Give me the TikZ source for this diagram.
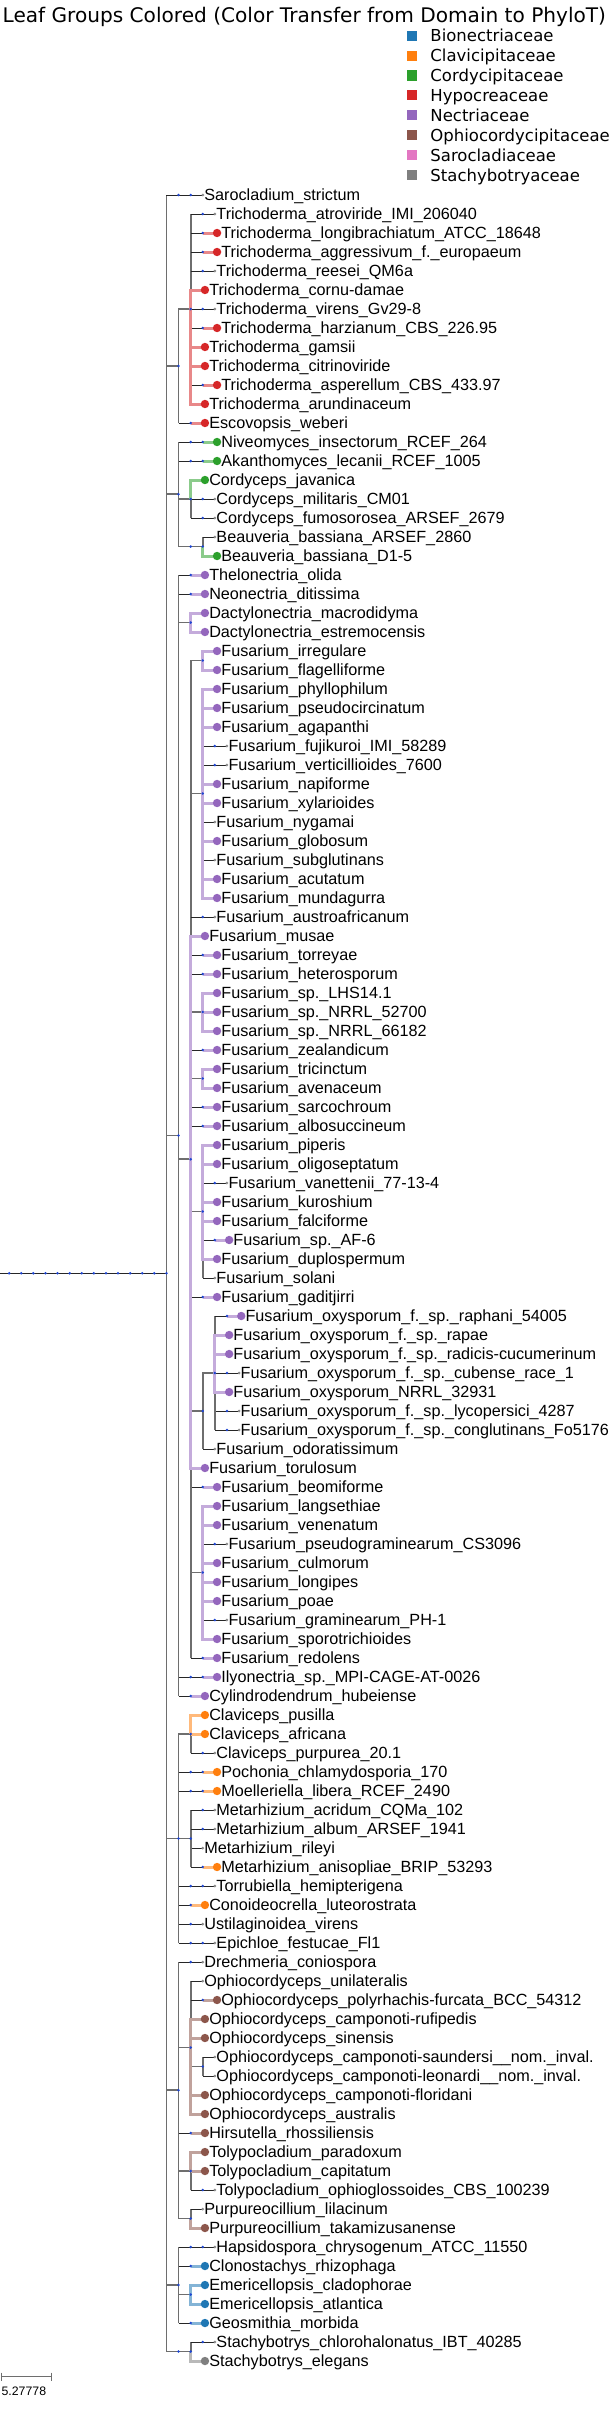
\documentclass[tikz,border=0pt]{standalone}
\usepackage{fontspec}
\setmainfont{Liberation Sans}
\newfontfamily\dejavu{DejaVu Sans}
\usetikzlibrary{calc}
\pgfdeclarelayer{bg}\pgfdeclarelayer{edges}\pgfdeclarelayer{cedges}
\pgfsetlayers{bg,edges,cedges,main}
\definecolor{cBion}{HTML}{1F77B4}
\definecolor{cClav}{HTML}{FF7F0E}
\definecolor{cCord}{HTML}{2CA02C}
\definecolor{cHypo}{HTML}{D62728}
\definecolor{cNect}{HTML}{9467BD}
\definecolor{cOphi}{HTML}{8C564B}
\definecolor{cSaro}{HTML}{E377C2}
\definecolor{cStac}{HTML}{7F7F7F}
\definecolor{bdotc}{HTML}{1E46D2}
\definecolor{gdotc}{HTML}{8C8C8C}
\definecolor{vcol}{HTML}{6E6E6E}
\newcommand\leaffont{\fontsize{16.2}{19}\selectfont}
\newcommand\legfont{\dejavu\fontsize{16.5}{19}\selectfont}
\tikzset{
 vedge/.style={draw=vcol,line width=1.8pt},
 ledge/.style={draw=black!85,line width=0.9pt},
 cedge/.style={line width=3pt},
 bdot/.style={fill=bdotc},
 gdot/.style={fill=gdotc},
 lbl/.style={anchor=base west,inner sep=0pt,outer sep=0pt,font=\leaffont,yshift=-5.8pt},
 leg/.style={anchor=base west,inner sep=0pt,outer sep=0pt,font=\legfont,yshift=-6pt},
}
% branch node: name, parent, level, y
\newcommand\bnode[4]{%
  \coordinate (#1) at ({166+12.1*#3},#4);%
  \begin{pgfonlayer}{edges}\draw[vedge] (#2) |- (#1);\end{pgfonlayer}%
  \fill[bdot] (#1) circle (1.4pt);}
% chain of single-child nodes: parent,id,nInter,leaf level (uses \ly)
\newcommand\chainpart[4]{%
  \ifnum#3>0
    \foreach \i in {1,...,#3}{%
      \pgfmathsetmacro\ix{166+12.1*(#4-#3-1+\i)}%
      \coordinate (#2-\i) at (\ix,\ly);%
    }%
    \begin{pgfonlayer}{edges}
      \draw[vedge] (#1) -- (#1 |- #2-1);
      \draw[ledge] (#1 |- #2-1) -- (#2-#3);
    \end{pgfonlayer}%
    \foreach \i in {1,...,#3}{\fill[bdot] (#2-\i) circle (1.4pt);}%
    \gdef\prev{#2-#3}%
  \else
    \gdef\prev{#1}%
  \fi}
% grey leaf: parent,id,nInter,level,row,text
\newcommand\gleaf[6]{%
  \pgfmathsetmacro\ly{176+19*#5}%
  \pgfmathsetmacro\lx{166+12.1*#4}%
  \coordinate (#2) at (\lx,\ly);%
  \chainpart{#1}{#2}{#3}{#4}%
  \begin{pgfonlayer}{edges}
    \ifnum#3=0 \draw[vedge] (#1) -- (#1 |- #2); \draw[ledge] (#1 |- #2) -- (#2);
    \else \draw[ledge] (\prev) -- (#2); \fi
  \end{pgfonlayer}%
  \fill[gdot] (#2) circle (1.5pt);%
  \node[lbl] (#2-t) at ([xshift=1.6pt]#2) {#6};}
% coloured leaf: parent,id,nInter,level,row,colour,text
\newcommand\cleaf[7]{%
  \pgfmathsetmacro\ly{176+19*#5}%
  \pgfmathsetmacro\lx{166+12.1*#4}%
  \coordinate (#2) at (\lx,\ly);%
  \coordinate (#2-d) at ({\lx+2.2},\ly);%
  \chainpart{#1}{#2}{#3}{#4}%
  \begin{pgfonlayer}{edges}
    \ifnum#3=0 \draw[vedge] (#1) -- (#1 |- #2); \fi
  \end{pgfonlayer}%
  \begin{pgfonlayer}{cedges}
    \draw[cedge,draw=#6!55!white] (\prev) |- (#2-d);
  \end{pgfonlayer}%
  \fill[#6] (#2-d) circle (4.2pt);%
  \node[lbl] (#2-t) at ([xshift=6.5pt]#2) {#7};}
\begin{document}
\begin{tikzpicture}[x=1pt,y=-1pt]
\begin{pgfonlayer}{bg}
\path[fill=white,use as bounding box] (0,0) rectangle (612,2422);
\end{pgfonlayer}
% title
\node[anchor=base west,inner sep=0pt] (title) at (2,22.7)
  {\dejavu\fontsize{20.1}{24}\selectfont Leaf Groups Colored (Color Transfer from Domain to PhyloT)};
% legend
\foreach \c/\t [count=\k from 0] in {cBion/Bionectriaceae,cClav/Clavicipitaceae,cCord/Cordycipitaceae,cHypo/Hypocreaceae,cNect/Nectriaceae,cOphi/Ophiocordycipitaceae,cSaro/Sarocladiaceae,cStac/Stachybotryaceae}{
  \fill[\c] (406.7,{35.7+19.9*\k-5}) rectangle ++(10,10);
  \node[leg] (leg\k) at (430,{35.7+19.9*\k}) {\t};
}
% root chain
\coordinate (R0) at (166,1273.25);
\coordinate (r0) at (0,1273.25);
\begin{pgfonlayer}{edges}\draw[ledge] (r0) -- (R0);\end{pgfonlayer}
\fill[bdot] (R0) circle (1.4pt);
\foreach \k in {1,...,13}{\coordinate (rc\k) at ({166-12.1*\k},1273.25); \fill[bdot] (rc\k) circle (1.4pt);}
% branch nodes
\bnode{H}{R0}{1}{366}
\bnode{T}{H}{2}{309}
\bnode{C}{R0}{1}{494.25}
\bnode{Cord}{C}{2}{499}
\bnode{Beau1}{C}{2}{546.5}
\bnode{Beau}{Beau1}{3}{546.5}
\bnode{N}{R0}{1}{1135.5}
\bnode{Dact}{N}{2}{622.5}
\bnode{F}{N}{2}{1159.25}
\bnode{Irr}{F}{3}{660.5}
\bnode{FF}{F}{3}{793.5}
\bnode{SpN}{F}{3}{1012}
\bnode{Tric}{F}{3}{1078.5}
\bnode{Sol}{F}{3}{1211.5}
\bnode{O}{F}{3}{1411}
\bnode{OO}{O}{4}{1373}
\bnode{G}{F}{3}{1572.5}
\bnode{Cl}{R0}{1}{1838.5}
\bnode{Clav}{Cl}{2}{1734}
\bnode{Met}{Cl}{2}{1838.5}
\bnode{Op}{R0}{1}{2090.25}
\bnode{Oph}{Op}{2}{2047.5}
\bnode{Camp}{Oph}{3}{2066.5}
\bnode{Toly}{Op}{2}{2171}
\bnode{Purp}{Op}{2}{2218.5}
\bnode{B}{R0}{1}{2285}
\bnode{Emer}{B}{2}{2294.5}
\bnode{St1}{R0}{1}{2351.5}
\bnode{St}{St1}{2}{2351.5}
% leaves
\gleaf{R0}{l1}{2}{3}{1}{Sarocladium\_strictum}
\gleaf{T}{l2}{1}{4}{2}{Trichoderma\_atroviride\_IMI\_206040}
\cleaf{T}{l3}{1}{4}{3}{cHypo}{Trichoderma\_longibrachiatum\_ATCC\_18648}
\cleaf{T}{l4}{1}{4}{4}{cHypo}{Trichoderma\_aggressivum\_f.\_europaeum}
\gleaf{T}{l5}{1}{4}{5}{Trichoderma\_reesei\_QM6a}
\cleaf{T}{l6}{0}{3}{6}{cHypo}{Trichoderma\_cornu-damae}
\gleaf{T}{l7}{1}{4}{7}{Trichoderma\_virens\_Gv29-8}
\cleaf{T}{l8}{1}{4}{8}{cHypo}{Trichoderma\_harzianum\_CBS\_226.95}
\cleaf{T}{l9}{0}{3}{9}{cHypo}{Trichoderma\_gamsii}
\cleaf{T}{l10}{0}{3}{10}{cHypo}{Trichoderma\_citrinoviride}
\cleaf{T}{l11}{1}{4}{11}{cHypo}{Trichoderma\_asperellum\_CBS\_433.97}
\cleaf{T}{l12}{0}{3}{12}{cHypo}{Trichoderma\_arundinaceum}
\cleaf{H}{l13}{1}{3}{13}{cHypo}{Escovopsis\_weberi}
\cleaf{C}{l14}{2}{4}{14}{cCord}{Niveomyces\_insectorum\_RCEF\_264}
\cleaf{C}{l15}{2}{4}{15}{cCord}{Akanthomyces\_lecanii\_RCEF\_1005}
\cleaf{Cord}{l16}{0}{3}{16}{cCord}{Cordyceps\_javanica}
\gleaf{Cord}{l17}{1}{4}{17}{Cordyceps\_militaris\_CM01}
\gleaf{Cord}{l18}{1}{4}{18}{Cordyceps\_fumosorosea\_ARSEF\_2679}
\gleaf{Beau}{l19}{0}{4}{19}{Beauveria\_bassiana\_ARSEF\_2860}
\cleaf{Beau}{l20}{0}{4}{20}{cCord}{Beauveria\_bassiana\_D1-5}
\cleaf{N}{l21}{1}{3}{21}{cNect}{Thelonectria\_olida}
\cleaf{N}{l22}{1}{3}{22}{cNect}{Neonectria\_ditissima}
\cleaf{Dact}{l23}{0}{3}{23}{cNect}{Dactylonectria\_macrodidyma}
\cleaf{Dact}{l24}{0}{3}{24}{cNect}{Dactylonectria\_estremocensis}
\cleaf{Irr}{l25}{0}{4}{25}{cNect}{Fusarium\_irregulare}
\cleaf{Irr}{l26}{0}{4}{26}{cNect}{Fusarium\_flagelliforme}
\cleaf{FF}{l27}{0}{4}{27}{cNect}{Fusarium\_phyllophilum}
\cleaf{FF}{l28}{0}{4}{28}{cNect}{Fusarium\_pseudocircinatum}
\cleaf{FF}{l29}{0}{4}{29}{cNect}{Fusarium\_agapanthi}
\gleaf{FF}{l30}{1}{5}{30}{Fusarium\_fujikuroi\_IMI\_58289}
\gleaf{FF}{l31}{1}{5}{31}{Fusarium\_verticillioides\_7600}
\cleaf{FF}{l32}{0}{4}{32}{cNect}{Fusarium\_napiforme}
\cleaf{FF}{l33}{0}{4}{33}{cNect}{Fusarium\_xylarioides}
\gleaf{FF}{l34}{0}{4}{34}{Fusarium\_nygamai}
\cleaf{FF}{l35}{0}{4}{35}{cNect}{Fusarium\_globosum}
\gleaf{FF}{l36}{0}{4}{36}{Fusarium\_subglutinans}
\cleaf{FF}{l37}{0}{4}{37}{cNect}{Fusarium\_acutatum}
\cleaf{FF}{l38}{0}{4}{38}{cNect}{Fusarium\_mundagurra}
\gleaf{F}{l39}{1}{4}{39}{Fusarium\_austroafricanum}
\cleaf{F}{l40}{0}{3}{40}{cNect}{Fusarium\_musae}
\cleaf{F}{l41}{1}{4}{41}{cNect}{Fusarium\_torreyae}
\cleaf{F}{l42}{1}{4}{42}{cNect}{Fusarium\_heterosporum}
\cleaf{SpN}{l43}{0}{4}{43}{cNect}{Fusarium\_sp.\_LHS14.1}
\cleaf{SpN}{l44}{0}{4}{44}{cNect}{Fusarium\_sp.\_NRRL\_52700}
\cleaf{SpN}{l45}{0}{4}{45}{cNect}{Fusarium\_sp.\_NRRL\_66182}
\cleaf{F}{l46}{1}{4}{46}{cNect}{Fusarium\_zealandicum}
\cleaf{Tric}{l47}{0}{4}{47}{cNect}{Fusarium\_tricinctum}
\cleaf{Tric}{l48}{0}{4}{48}{cNect}{Fusarium\_avenaceum}
\cleaf{F}{l49}{1}{4}{49}{cNect}{Fusarium\_sarcochroum}
\cleaf{F}{l50}{1}{4}{50}{cNect}{Fusarium\_albosuccineum}
\cleaf{Sol}{l51}{0}{4}{51}{cNect}{Fusarium\_piperis}
\cleaf{Sol}{l52}{0}{4}{52}{cNect}{Fusarium\_oligoseptatum}
\gleaf{Sol}{l53}{1}{5}{53}{Fusarium\_vanettenii\_77-13-4}
\cleaf{Sol}{l54}{0}{4}{54}{cNect}{Fusarium\_kuroshium}
\cleaf{Sol}{l55}{0}{4}{55}{cNect}{Fusarium\_falciforme}
\cleaf{Sol}{l56}{1}{5}{56}{cNect}{Fusarium\_sp.\_AF-6}
\cleaf{Sol}{l57}{0}{4}{57}{cNect}{Fusarium\_duplospermum}
\gleaf{Sol}{l58}{0}{4}{58}{Fusarium\_solani}
\cleaf{F}{l59}{1}{4}{59}{cNect}{Fusarium\_gaditjirri}
\cleaf{OO}{l60}{1}{6}{60}{cNect}{Fusarium\_oxysporum\_f.\_sp.\_raphani\_54005}
\cleaf{OO}{l61}{0}{5}{61}{cNect}{Fusarium\_oxysporum\_f.\_sp.\_rapae}
\cleaf{OO}{l62}{0}{5}{62}{cNect}{Fusarium\_oxysporum\_f.\_sp.\_radicis-cucumerinum}
\gleaf{OO}{l63}{1}{6}{63}{Fusarium\_oxysporum\_f.\_sp.\_cubense\_race\_1}
\cleaf{OO}{l64}{0}{5}{64}{cNect}{Fusarium\_oxysporum\_NRRL\_32931}
\gleaf{OO}{l65}{1}{6}{65}{Fusarium\_oxysporum\_f.\_sp.\_lycopersici\_4287}
\gleaf{OO}{l66}{1}{6}{66}{Fusarium\_oxysporum\_f.\_sp.\_conglutinans\_Fo5176}
\gleaf{O}{l67}{0}{4}{67}{Fusarium\_odoratissimum}
\cleaf{F}{l68}{0}{3}{68}{cNect}{Fusarium\_torulosum}
\cleaf{F}{l69}{1}{4}{69}{cNect}{Fusarium\_beomiforme}
\cleaf{G}{l70}{0}{4}{70}{cNect}{Fusarium\_langsethiae}
\cleaf{G}{l71}{0}{4}{71}{cNect}{Fusarium\_venenatum}
\gleaf{G}{l72}{1}{5}{72}{Fusarium\_pseudograminearum\_CS3096}
\cleaf{G}{l73}{0}{4}{73}{cNect}{Fusarium\_culmorum}
\cleaf{G}{l74}{0}{4}{74}{cNect}{Fusarium\_longipes}
\cleaf{G}{l75}{0}{4}{75}{cNect}{Fusarium\_poae}
\gleaf{G}{l76}{1}{5}{76}{Fusarium\_graminearum\_PH-1}
\cleaf{G}{l77}{0}{4}{77}{cNect}{Fusarium\_sporotrichioides}
\cleaf{F}{l78}{1}{4}{78}{cNect}{Fusarium\_redolens}
\cleaf{N}{l79}{2}{4}{79}{cNect}{Ilyonectria\_sp.\_MPI-CAGE-AT-0026}
\cleaf{N}{l80}{1}{3}{80}{cNect}{Cylindrodendrum\_hubeiense}
\cleaf{Clav}{l81}{0}{3}{81}{cClav}{Claviceps\_pusilla}
\cleaf{Clav}{l82}{0}{3}{82}{cClav}{Claviceps\_africana}
\gleaf{Clav}{l83}{1}{4}{83}{Claviceps\_purpurea\_20.1}
\cleaf{Cl}{l84}{2}{4}{84}{cClav}{Pochonia\_chlamydosporia\_170}
\cleaf{Cl}{l85}{2}{4}{85}{cClav}{Moelleriella\_libera\_RCEF\_2490}
\gleaf{Met}{l86}{1}{4}{86}{Metarhizium\_acridum\_CQMa\_102}
\gleaf{Met}{l87}{1}{4}{87}{Metarhizium\_album\_ARSEF\_1941}
\gleaf{Met}{l88}{0}{3}{88}{Metarhizium\_rileyi}
\cleaf{Met}{l89}{1}{4}{89}{cClav}{Metarhizium\_anisopliae\_BRIP\_53293}
\gleaf{Cl}{l90}{2}{4}{90}{Torrubiella\_hemipterigena}
\cleaf{Cl}{l91}{1}{3}{91}{cClav}{Conoideocrella\_luteorostrata}
\gleaf{Cl}{l92}{1}{3}{92}{Ustilaginoidea\_virens}
\gleaf{Cl}{l93}{2}{4}{93}{Epichloe\_festucae\_Fl1}
\gleaf{Op}{l94}{1}{3}{94}{Drechmeria\_coniospora}
\gleaf{Oph}{l95}{0}{3}{95}{Ophiocordyceps\_unilateralis}
\cleaf{Oph}{l96}{1}{4}{96}{cOphi}{Ophiocordyceps\_polyrhachis-furcata\_BCC\_54312}
\cleaf{Oph}{l97}{0}{3}{97}{cOphi}{Ophiocordyceps\_camponoti-rufipedis}
\cleaf{Oph}{l98}{0}{3}{98}{cOphi}{Ophiocordyceps\_sinensis}
\gleaf{Camp}{l99}{0}{4}{99}{Ophiocordyceps\_camponoti-saundersi\_\_nom.\_inval.}
\gleaf{Camp}{l100}{0}{4}{100}{Ophiocordyceps\_camponoti-leonardi\_\_nom.\_inval.}
\cleaf{Oph}{l101}{0}{3}{101}{cOphi}{Ophiocordyceps\_camponoti-floridani}
\cleaf{Oph}{l102}{0}{3}{102}{cOphi}{Ophiocordyceps\_australis}
\cleaf{Op}{l103}{1}{3}{103}{cOphi}{Hirsutella\_rhossiliensis}
\cleaf{Toly}{l104}{0}{3}{104}{cOphi}{Tolypocladium\_paradoxum}
\cleaf{Toly}{l105}{0}{3}{105}{cOphi}{Tolypocladium\_capitatum}
\gleaf{Toly}{l106}{1}{4}{106}{Tolypocladium\_ophioglossoides\_CBS\_100239}
\gleaf{Purp}{l107}{0}{3}{107}{Purpureocillium\_lilacinum}
\cleaf{Purp}{l108}{0}{3}{108}{cOphi}{Purpureocillium\_takamizusanense}
\gleaf{B}{l109}{2}{4}{109}{Hapsidospora\_chrysogenum\_ATCC\_11550}
\cleaf{B}{l110}{1}{3}{110}{cBion}{Clonostachys\_rhizophaga}
\cleaf{Emer}{l111}{0}{3}{111}{cBion}{Emericellopsis\_cladophorae}
\cleaf{Emer}{l112}{0}{3}{112}{cBion}{Emericellopsis\_atlantica}
\cleaf{B}{l113}{1}{3}{113}{cBion}{Geosmithia\_morbida}
\gleaf{St}{l114}{1}{4}{114}{Stachybotrys\_chlorohalonatus\_IBT\_40285}
\cleaf{St}{l115}{0}{3}{115}{cStac}{Stachybotrys\_elegans}
% scale bar
\coordinate (sb1) at (1.2,2376.7);
\coordinate (sb2) at (50.7,2376.7);
\draw[draw=vcol,line width=1pt] (sb1) -- (sb2);
\draw[draw=vcol,line width=1pt] ([yshift=4pt]sb1) -- ([yshift=-4pt]sb1);
\draw[draw=vcol,line width=1pt] ([yshift=4pt]sb2) -- ([yshift=-4pt]sb2);
\node[anchor=base west,inner sep=0pt,font=\fontsize{12.3}{14}\selectfont] (sbl) at (1,2395) {5.27778};
\end{tikzpicture}
\end{document}
